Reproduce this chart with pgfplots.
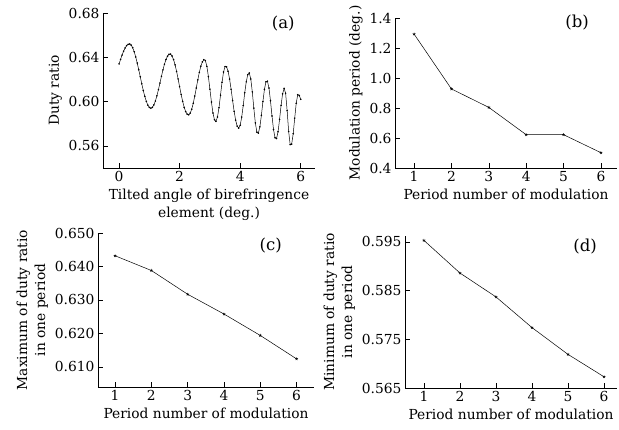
\documentclass[border=0pt]{standalone}
\usepackage{fontspec}
\setmainfont{DejaVu Serif}
\usepackage{pgfplots}
\pgfplotsset{compat=1.18}
\newcommand{\fs}{\fontsize{13.8}{18}\selectfont}
\newcommand{\fl}{\fontsize{16.5}{19}\selectfont}
\begin{document}
\begin{tikzpicture}
\path (0pt,0pt) rectangle (619pt,430pt);
\pgfplotsset{
  panel/.style={
    scale only axis, anchor=south west,
    axis lines=left, axis line style={-, line width=0.6pt},
    tick align=inside, major tick length=5pt,
    tick style={line width=0.6pt, black},
    tick label style={font=\fs},
    label style={font=\fs},
    /pgf/number format/assume math mode=true,
    /pgf/number format/fixed, /pgf/number format/fixed zerofill,
    every axis plot/.append style={line width=0.5pt, black},
    xlabel style={align=center}, ylabel style={align=center},
    clip=false,
  },
}
% (a)
\begin{axis}[panel, at={(103pt,262pt)}, width=212pt, height=155pt,
  xmin=-0.53, xmax=6.47, ymin=0.54, ymax=0.68,
  xtick={0,2,4,6}, ytick={0.56,0.60,0.64,0.68},
  xticklabel style={/pgf/number format/precision=0},
  yticklabel style={/pgf/number format/precision=2},
  xlabel={Tilted angle of birefringence\\element (deg.)},
  ylabel={Duty ratio}]
\addplot[mark=*, mark size=0.5pt] coordinates {
(0.00,0.6340) (0.05,0.6381) (0.10,0.6420) (0.15,0.6455) (0.20,0.6484)
(0.25,0.6505) (0.30,0.6517) (0.35,0.6520) (0.40,0.6510) (0.45,0.6486)
(0.50,0.6450) (0.55,0.6403) (0.60,0.6348) (0.65,0.6287) (0.70,0.6224)
(0.75,0.6160) (0.80,0.6100) (0.85,0.6047) (0.90,0.6002) (0.95,0.5968)
(1.00,0.5947) (1.05,0.5940) (1.10,0.5948) (1.15,0.5970) (1.20,0.6005)
(1.25,0.6052) (1.30,0.6107) (1.35,0.6167) (1.40,0.6228) (1.45,0.6286)
(1.50,0.6338) (1.55,0.6380) (1.60,0.6410) (1.65,0.6427) (1.70,0.6429)
(1.75,0.6412) (1.80,0.6379) (1.85,0.6331) (1.90,0.6272) (1.95,0.6204)
(2.00,0.6134) (2.05,0.6064) (2.10,0.6002) (2.15,0.5948) (2.20,0.5909)
(2.25,0.5886) (2.30,0.5880) (2.35,0.5896) (2.40,0.5931) (2.45,0.5984)
(2.50,0.6050) (2.55,0.6122) (2.60,0.6196) (2.65,0.6263) (2.70,0.6319)
(2.75,0.6358) (2.80,0.6378) (2.85,0.6371) (2.90,0.6318) (2.95,0.6226)
(3.00,0.6112) (3.05,0.5996) (3.10,0.5897) (3.15,0.5836) (3.20,0.5821)
(3.25,0.5860) (3.30,0.5945) (3.35,0.6058) (3.40,0.6174) (3.45,0.6267)
(3.50,0.6316) (3.55,0.6313) (3.60,0.6274) (3.65,0.6203) (3.70,0.6111)
(3.75,0.6009) (3.80,0.5912) (3.85,0.5832) (3.90,0.5778) (3.95,0.5760)
(4.00,0.5786) (4.05,0.5860) (4.10,0.5964) (4.15,0.6079) (4.20,0.6178)
(4.25,0.6243) (4.30,0.6258) (4.35,0.6204) (4.40,0.6087) (4.45,0.5941)
(4.50,0.5807) (4.55,0.5724) (4.60,0.5715) (4.65,0.5772) (4.70,0.5876)
(4.75,0.6000) (4.80,0.6110) (4.85,0.6178) (4.90,0.6184) (4.95,0.6122)
(5.00,0.6007) (5.05,0.5870) (5.10,0.5748) (5.15,0.5673) (5.20,0.5666)
(5.25,0.5727) (5.30,0.5839) (5.35,0.5966) (5.40,0.6070) (5.45,0.6119)
(5.50,0.6075) (5.55,0.5918) (5.60,0.5730) (5.65,0.5611) (5.70,0.5616)
(5.75,0.5709) (5.80,0.5850) (5.85,0.5985) (5.90,0.6062) (5.95,0.6055)
(6.00,0.6020)};
\node[font=\fl] at (rel axis cs:0.85,0.935) {(a)};
\end{axis}
% (b)
\begin{axis}[panel, at={(395pt,262pt)}, width=222pt, height=150pt,
  xmin=0.49, xmax=6.43, ymin=0.4, ymax=1.4,
  xtick={1,...,6}, ytick={0.4,0.6,...,1.4},
  xticklabel style={/pgf/number format/precision=0},
  yticklabel style={/pgf/number format/precision=1},
  xlabel={Period number of modulation},
  ylabel={Modulation period (deg.)}]
\addplot[mark=star, mark size=1.5pt] coordinates {
(1,1.293) (2,0.927) (3,0.804) (4,0.622) (5,0.622) (6,0.502)};
\node[font=\fl] at (rel axis cs:0.82,0.967) {(b)};
\end{axis}
% (c)
\begin{axis}[panel, at={(98pt,43pt)}, width=216pt, height=154pt,
  xmin=0.53, xmax=6.48, ymin=0.604, ymax=0.650,
  xtick={1,...,6}, ytick={0.610,0.620,...,0.650},
  xticklabel style={/pgf/number format/precision=0},
  yticklabel style={/pgf/number format/precision=3},
  xlabel={Period number of modulation},
  ylabel={Maximum of duty ratio\\in one period}]
\addplot[mark=star, mark size=1.5pt] coordinates {
(1,0.6432) (2,0.6388) (3,0.6317) (4,0.6258) (5,0.6194) (6,0.6124)};
\node[font=\fl] at (rel axis cs:0.80,0.92) {(c)};
\end{axis}
% (d)
\begin{axis}[panel, at={(405pt,42pt)}, width=212pt, height=152pt,
  xmin=0.475, xmax=6.36, ymin=0.565, ymax=0.5962,
  xtick={1,...,6}, ytick={0.565,0.575,0.585,0.595},
  xticklabel style={/pgf/number format/precision=0},
  yticklabel style={/pgf/number format/precision=3},
  xlabel={Period number of modulation},
  ylabel={Minimum of duty ratio\\in one period}]
\addplot[mark=star, mark size=1.5pt] coordinates {
(1,0.5953) (2,0.5886) (3,0.5837) (4,0.5774) (5,0.5719) (6,0.5673)};
\node[font=\fl] at (rel axis cs:0.85,0.93) {(d)};
\end{axis}
\end{tikzpicture}
\end{document}
